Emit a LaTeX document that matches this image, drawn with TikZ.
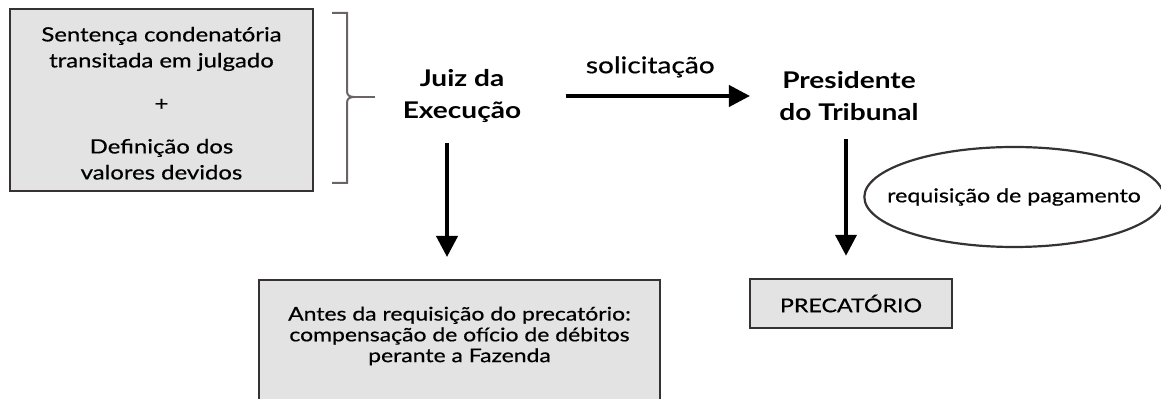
\documentclass[tikz,border=0pt]{standalone}
\usepackage{fontspec}
\setmainfont{Lato}[FakeStretch=1.22]
\newfontfamily\medfont{Lato}[FakeStretch=1.22,FakeBold=0.6]
\usetikzlibrary{arrows.meta,shapes.geometric}
\definecolor{boxgray}{HTML}{E3E3E3}
\definecolor{edgegray}{HTML}{363232}
\definecolor{bracegray}{HTML}{6A6464}

\begin{document}
\begin{tikzpicture}[x=0.5pt,y=-0.5pt,
            graybox/.style={rectangle, draw=edgegray, line width=1.2pt, fill=boxgray, align=center},
            actor/.style={inner sep=0pt, align=center, font=\fontsize{11.5}{16}\selectfont\bfseries},
            arrow/.style={-{Triangle[width=10.5pt,length=10.5pt]}, line width=2pt},
            tag/.style={font=\fontsize{11.5}{13}\selectfont\medfont}
            ]
            \clip (0,0) rectangle (1161,399);

            % Left box and brace
            \node[graybox, minimum width=151.5pt, minimum height=91pt, font=\fontsize{9.8}{13}\selectfont\medfont] (sentenca) at (161.5,100) {\rule{0pt}{10.5pt}Sentença condenatória\\transitada em julgado\\[8.5pt]+\\[8.5pt]Definição dos\\valores devidos};
            \draw[bracegray, line width=1pt] (332,13) -- (347,13) -- (347,91) .. controls (347,95) and (349,97) .. (354,97) .. controls (349,97) and (347,99) .. (347,103) -- (347,183) -- (332,183);
            \draw[bracegray, line width=1pt] (354,97) -- (375,97);

            % Actors
            \node[actor] (juiz) at (462,96) {Juiz da\\Execução};
            \node[actor] (presidente) at (849,96) {Presidente\\do Tribunal};

            % Boxes below
            \node[graybox, minimum width=200.5pt, minimum height=65pt, anchor=north] (compens) at (459.5,279) {};
            \node[inner sep=0pt, align=center, font=\fontsize{9.4}{10.4}\selectfont\medfont] (compenstxt) at (459.5,336) {Antes da requisição do precatório:\\compensação de ofício de débitos\\perante a Fazenda};
            \node[graybox, minimum width=101pt, minimum height=24.5pt, font=\fontsize{9.5}{11}\selectfont\medfont] (precatorio) at (851,303.5) {PRECATÓRIO};
            \node[ellipse, draw=edgegray, line width=1.1pt, minimum width=146pt, minimum height=50pt, inner xsep=-10.5pt, inner ysep=0pt, font=\fontsize{9.5}{11}\selectfont\medfont] (reqpag) at (1014,197) {requisição de pagamento};

            % Arrows
            \draw[arrow, shorten <=22pt, shorten >=14.5pt] (juiz) -- node[tag, above=5pt] (solic) {solicitação} (presidente);
            \draw[arrow, shorten <=10pt, shorten >=11pt] ([xshift=-7.5pt]juiz.south) -- ([xshift=-7.5pt]juiz.south |- compens.north);
            \draw[arrow, shorten <=9pt, shorten >=11pt] ([xshift=-1.5pt]presidente.south) -- ([xshift=-1.5pt]presidente.south |- precatorio.north);

        \end{tikzpicture}
\end{document}
